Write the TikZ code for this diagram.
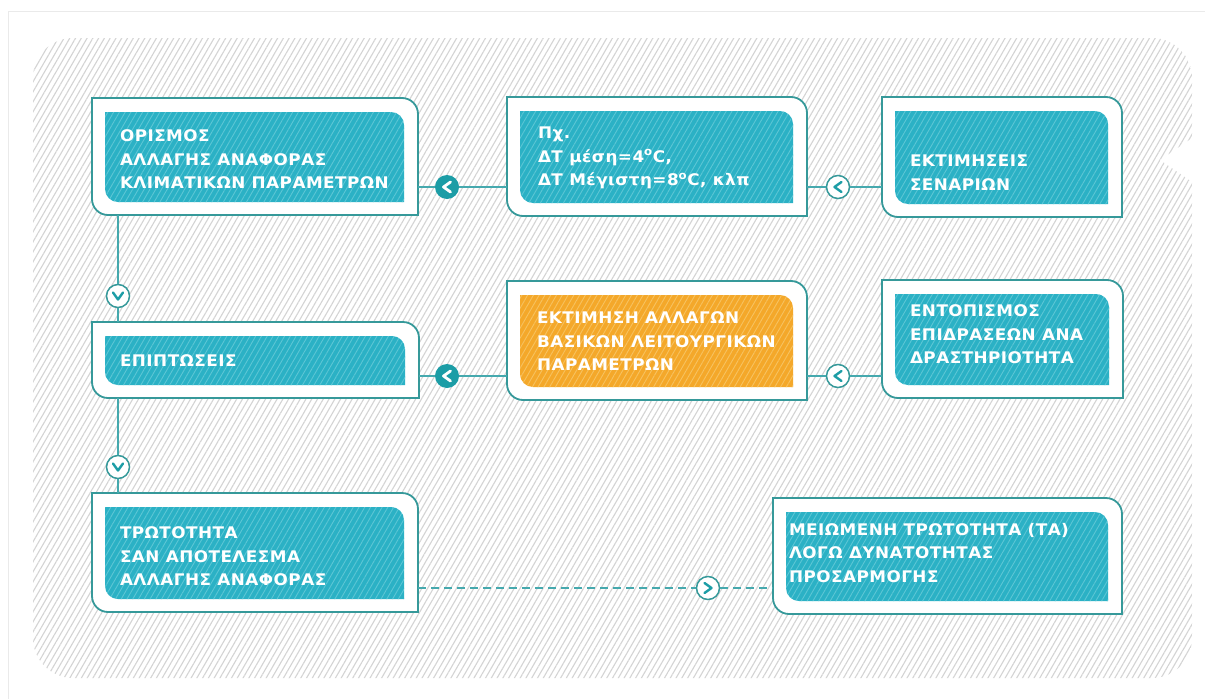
\documentclass[tikz,border=0pt]{standalone}
\usepackage{fontspec}
\setmainfont{DejaVu Sans}[LetterSpace=3,FakeStretch=1.05]
\usetikzlibrary{patterns.meta}
\definecolor{bordC}{HTML}{36999A}
\definecolor{tealF}{HTML}{2BB1C5}
\definecolor{tealH}{HTML}{5CC6D5}
\definecolor{orF}{HTML}{F4A82A}
\definecolor{orH}{HTML}{F7C25F}
\definecolor{bgH}{HTML}{D4D4D4}
\definecolor{frameC}{HTML}{EAEAEA}
\definecolor{mkF}{HTML}{1C9DA6}
\definecolor{lineC}{HTML}{45A9AE}
\tikzset{
  rshape/.style 2 args={insert path={(#1.north west) -- ([xshift=-#2pt]#1.north east) arc[start angle=90,end angle=0,radius=#2pt] -- (#1.south east) -- ([xshift=#2pt]#1.south west) arc[start angle=270,end angle=180,radius=#2pt] -- cycle}},
  boxnode/.style={rectangle, inner sep=0pt, outer sep=0pt, draw=none},
  outerbox/.style={fill=white, draw=bordC, line width=1.8pt},
  tealbox/.style={fill=tealF, postaction={pattern={Lines[angle=60,distance=5pt,line width=0.9pt]}, pattern color=tealH}},
  orbox/.style={fill=orF, postaction={pattern={Lines[angle=60,distance=5pt,line width=0.9pt]}, pattern color=orH}},
  txt/.style={inner sep=0pt, outer sep=0pt, align=left, text=white, font=\fontsize{16}{23.5}\selectfont\bfseries},
  conn/.style={draw=lineC, line width=1.8pt},
  dconn/.style={draw=lineC, line width=1.5pt, dash pattern=on 8pt off 5pt},
  mfill/.style={circle, fill=mkF, minimum size=24pt, inner sep=0pt},
  mline/.style={circle, fill=white, draw=bordC, line width=1.5pt, minimum size=23pt, inner sep=0pt},
  chevW/.style={draw=white, line width=2.8pt, line cap=round, line join=round},
  chevT/.style={draw=mkF, line width=2.4pt, line cap=round, line join=round}
}
\newcommand\flowbox[9]{%
  \node[boxnode, minimum width={#4-#2}, minimum height={#5-#3}, anchor=north west] (#1) at (#2,{-#3}) {};
  \node[boxnode, minimum width={#4-#2-27}, minimum height={#5-#3-27}, anchor=north west] (#1i) at ({#2+13},{-#3-14}) {};
  \path[outerbox] [rshape={#1}{16}];
  \path[#6] [rshape={#1i}{13}];
  \node[txt, anchor=north west] (#1t) at (#7,{-#8}) {#9};
}
\begin{document}
\begin{tikzpicture}[x=1pt,y=1pt]
\useasboundingbox (0,0) rectangle (1205,-699);
\fill[white] (0,0) rectangle (1205,-699);
\draw[frameC, line width=1pt] (8,-699) -- (8,-11) -- (1205,-11);
\path[fill=white, postaction={pattern={Lines[angle=60,distance=5pt,line width=1.1pt]}, pattern color=bgH}]
 (73,-38) -- (1152,-38) arc[start angle=90,end angle=0,radius=40] -- (1192,-138) -- (1160,-160) -- (1192,-182) -- (1192,-638) arc[start angle=0,end angle=-90,radius=40] -- (73,-678) arc[start angle=270,end angle=180,radius=40] -- (33,-78) arc[start angle=180,end angle=90,radius=40] -- cycle;

\flowbox{b1}{92}{98}{418}{215}{tealbox}{120}{130}{ΟΡΙΣΜΟΣ\\ΑΛΛΑΓΗΣ ΑΝΑΦΟΡΑΣ\\ΚΛΙΜΑΤΙΚΩΝ ΠΑΡΑΜΕΤΡΩΝ}
\flowbox{b2}{507}{97}{807}{216}{tealbox}{538}{127}{Πχ.\\ΔΤ μέση=4\textsuperscript{o}C,\\ΔΤ Μέγιστη=8\textsuperscript{o}C, κλπ}
\flowbox{b3}{882}{97}{1122}{217}{tealbox}{910}{155}{ΕΚΤΙΜΗΣΕΙΣ\\ΣΕΝΑΡΙΩΝ}
\flowbox{b4}{92}{322}{419}{398}{tealbox}{120}{355}{ΕΠΙΠΤΩΣΕΙΣ}
\flowbox{b5}{507}{281}{807}{400}{orbox}{537}{312}{ΕΚΤΙΜΗΣΗ ΑΛΛΑΓΩΝ\\ΒΑΣΙΚΩΝ ΛΕΙΤΟΥΡΓΙΚΩΝ\\ΠΑΡΑΜΕΤΡΩΝ}
\flowbox{b6}{882}{280}{1123}{398}{tealbox}{910}{305}{ΕΝΤΟΠΙΣΜΟΣ\\ΕΠΙΔΡΑΣΕΩΝ ΑΝΑ\\ΔΡΑΣΤΗΡΙΟΤΗΤΑ}
\flowbox{b7}{92}{493}{418}{612}{tealbox}{120}{527}{ΤΡΩΤΟΤΗΤΑ\\ΣΑΝ ΑΠΟΤΕΛΕΣΜΑ\\ΑΛΛΑΓΗΣ ΑΝΑΦΟΡΑΣ}
\flowbox{b8}{773}{498}{1122}{614}{tealbox}{789}{523}{ΜΕΙΩΜΕΝΗ ΤΡΩΤΟΤΗΤΑ (ΤΑ)\\ΛΟΓΩ ΔΥΝΑΤΟΤΗΤΑΣ\\ΠΡΟΣΑΡΜΟΓΗΣ}

% markers
\node[mfill] (m1) at (447,-187) {};
\node[mline] (m2) at (838,-187) {};
\node[mline] (m3) at (118,-296) {};
\node[mfill] (m4) at (447,-376) {};
\node[mline] (m5) at (838,-376) {};
\node[mline] (m6) at (118,-467) {};
\node[mline] (m7) at (708,-588) {};

% connectors
\draw[conn] (b2.west |- m1) -- (m1);
\draw[conn] (m1) -- (b1.east |- m1);
\draw[conn] (b3.west |- m2) -- (m2);
\draw[conn] (m2) -- (b2.east |- m2);
\draw[conn] (b1.south -| m3) -- (m3);
\draw[conn] (m3) -- (b4.north -| m3);
\draw[conn] (b5.west |- m4) -- (m4);
\draw[conn] (m4) -- (b4.east |- m4);
\draw[conn] (b6.west |- m5) -- (m5);
\draw[conn] (m5) -- (b5.east |- m5);
\draw[conn] (b4.south -| m6) -- (m6);
\draw[conn] (m6) -- (b7.north -| m6);
\draw[dconn] (b7.east |- m7) -- (m7);
\draw[dconn] (m7) -- (b8.west |- m7);

% chevrons
\draw[chevW] ([shift={(3.5,5)}]m1.center) -- ([shift={(-3.5,0)}]m1.center) -- ([shift={(3.5,-5)}]m1.center);
\draw[chevW] ([shift={(3.5,5)}]m4.center) -- ([shift={(-3.5,0)}]m4.center) -- ([shift={(3.5,-5)}]m4.center);
\draw[chevT] ([shift={(3.5,5)}]m2.center) -- ([shift={(-3.5,0)}]m2.center) -- ([shift={(3.5,-5)}]m2.center);
\draw[chevT] ([shift={(3.5,5)}]m5.center) -- ([shift={(-3.5,0)}]m5.center) -- ([shift={(3.5,-5)}]m5.center);
\draw[chevT] ([shift={(-3.5,5)}]m7.center) -- ([shift={(3.5,0)}]m7.center) -- ([shift={(-3.5,-5)}]m7.center);
\draw[chevT] ([shift={(-5,3.5)}]m3.center) -- ([shift={(0,-3.5)}]m3.center) -- ([shift={(5,3.5)}]m3.center);
\draw[chevT] ([shift={(-5,3.5)}]m6.center) -- ([shift={(0,-3.5)}]m6.center) -- ([shift={(5,3.5)}]m6.center);
\end{tikzpicture}
\end{document}
